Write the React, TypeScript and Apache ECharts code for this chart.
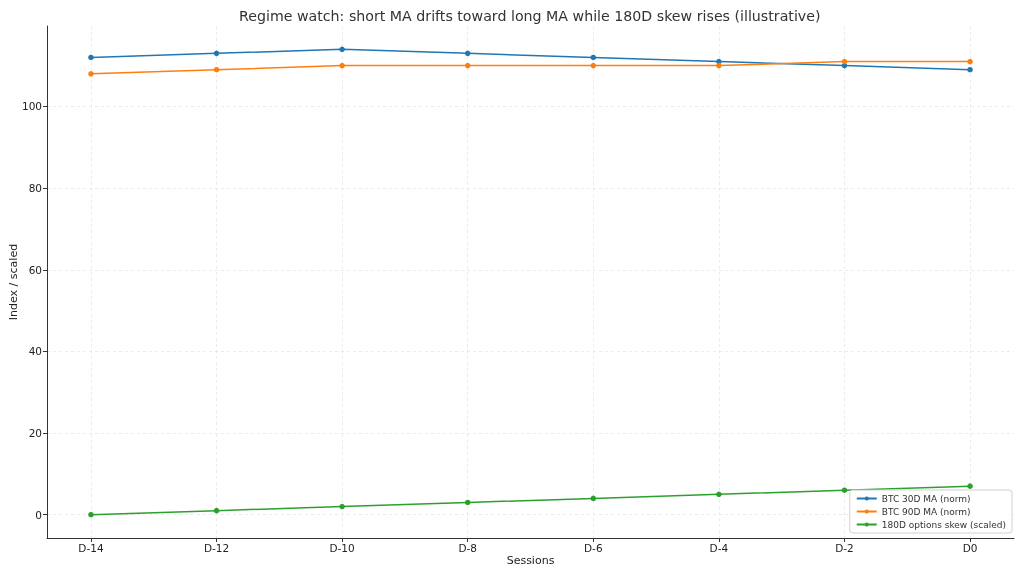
import React, { useEffect, useRef } from "react";
import * as echarts from "echarts";

const categories = ["D-14", "D-12", "D-10", "D-8", "D-6", "D-4", "D-2", "D0"];
const btc30 = [112, 113, 114, 113, 112, 111, 110, 109];
const btc90 = [108, 109, 110, 110, 110, 110, 111, 111];
const skew180 = [0, 1, 2, 3, 4, 5, 6, 7];
const yTicks = [0, 20, 40, 60, 80, 100];

const FONT = "DejaVu Sans";

export default function App() {
  const ref = useRef<HTMLDivElement>(null);
  useEffect(() => {
    const chart = echarts.init(ref.current!, null, { renderer: "svg" });
    const idx = categories.map((_, i) => i);
    const mk = (name: string, color: string, vals: number[]) => ({
      name,
      type: "line",
      data: vals.map((v, i) => [i, v]),
      symbol: "circle",
      symbolSize: 5.5,
      lineStyle: { color, width: 1.5 },
      itemStyle: { color },
      emphasis: { disabled: true },
    });
    chart.setOption({
      animation: false,
      textStyle: { fontFamily: FONT },
      title: {
        text: "Regime watch: short MA drifts toward long MA while 180D skew rises (illustrative)",
        left: 234,
        top: 4,
        textStyle: { fontFamily: FONT, fontSize: 14.2, fontWeight: "normal", color: "#333" },
      },
      grid: { left: 47, right: 10, top: 26, bottom: 38, containLabel: false, outerBoundsMode: "none" },
      xAxis: {
        type: "value",
        min: -0.35,
        max: 7.35,
        name: "Sessions",
        nameLocation: "middle",
        nameGap: 17,
        nameMoveOverlap: false,
        nameTextStyle: { fontFamily: FONT, fontSize: 11, color: "#222" },
        axisLine: { show: true, onZero: false, lineStyle: { color: "#333", width: 1 } },
        axisTick: { show: true, customValues: idx, length: 4, lineStyle: { color: "#333" } },
        axisLabel: {
          customValues: idx,
          formatter: (v: number) => categories[Math.round(v)],
          fontFamily: FONT,
          fontSize: 10.5,
          color: "#222",
          margin: 4,
        },
        splitLine: { show: true, lineStyle: { color: "#e6e6e6", type: [3, 3], width: 0.8 } },
      },
      yAxis: {
        type: "value",
        min: -5.7,
        max: 119.7,
        name: "Index / scaled",
        nameLocation: "middle",
        nameGap: 28,
        nameMoveOverlap: false,
        nameTextStyle: { fontFamily: FONT, fontSize: 11, color: "#222" },
        axisLine: { show: true, onZero: false, lineStyle: { color: "#333", width: 1 } },
        axisTick: { show: true, customValues: yTicks, length: 4, lineStyle: { color: "#333" } },
        axisLabel: {
          customValues: yTicks,
          fontFamily: FONT,
          fontSize: 10.5,
          color: "#222",
          margin: 5,
        },
        splitLine: { show: true, lineStyle: { color: "#e6e6e6", type: [3, 3], width: 0.8 } },
      },
      legend: {
        orient: "vertical",
        right: 12,
        bottom: 43,
        backgroundColor: "rgba(255,255,255,0.8)",
        borderColor: "#d0d0d0",
        borderWidth: 1,
        borderRadius: 3,
        padding: [4, 6, 4, 6],
        itemGap: 4,
        itemWidth: 20,
        itemHeight: 5,
        textStyle: { fontFamily: FONT, fontSize: 9, color: "#333" },
        data: ["BTC 30D MA (norm)", "BTC 90D MA (norm)", "180D options skew (scaled)"],
      },
      series: [
        mk("BTC 30D MA (norm)", "#1f77b4", btc30),
        mk("BTC 90D MA (norm)", "#ff7f0e", btc90),
        mk("180D options skew (scaled)", "#2ca02c", skew180),
      ],
    });
    return () => chart.dispose();
  }, []);
  return <div ref={ref} style={{ width: 1024, height: 576, position: "fixed", left: 0, top: 0 }} />;
}
